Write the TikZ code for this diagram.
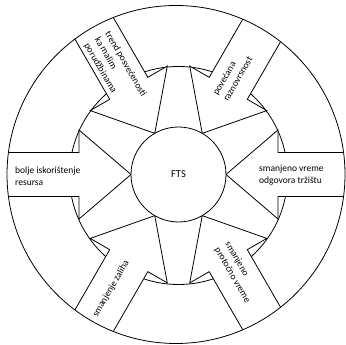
\documentclass[tikz,border=0pt]{standalone}
\usepackage{fontspec}
\setmainfont{Carlito}
\begin{document}
\begin{tikzpicture}[x=1pt,y=1pt,
  lbl/.style={font=\fontsize{9.5}{12}\selectfont, align=left, inner sep=0pt, anchor=west},
  ring/.style={draw=black, line width=0.8pt},
  arrowshape/.style={draw=black, line width=0.8pt, fill=white, line join=miter}]
\useasboundingbox (0,0) rectangle (346,345);
\coordinate (C) at (178.5,170.5);
\coordinate (O) at (176,170.5);
\coordinate (M) at (178.5,169.5);
\draw[ring] (M) circle (109);
\begin{scope}
  \clip (O) circle (169);
  \foreach \a in {0,60,...,300}{
    \draw[arrowshape, shift={(C)}, rotate=\a]
      (47.5,0) -- (99.5,44.5) -- (99.5,22) -- (200,22) -- (200,-22)
      -- (99.5,-22) -- (99.5,-44.5) -- cycle;
  }
\end{scope}
\draw[ring] (O) circle (169);
\node[circle, ring, fill=white, minimum size=95pt, inner sep=0pt,
      font=\fontsize{10.5}{12}\selectfont] (fts) at (C) {FTS};
\node[lbl] (l1) at (15,168.5) {bolje iskorištenje\\resursa};
\node[lbl] (l2) at (259,169.8) {smanjeno vreme\\odgovora tržištu};
\node[lbl, rotate=-60] (l3) at (96.7,306.9) {trend posvećenosti\\ka malim\\porudžbinama};
\node[lbl, rotate=60] (l4) at (220,247.5) {povećana\\raznovrsnost};
\node[lbl, rotate=-60] (l5) at (222,99.5) {smanjeno\\protočno vreme};
\node[lbl, rotate=60] (l6) at (95,28.3) {smanjenje zaliha};
\end{tikzpicture}
\end{document}
